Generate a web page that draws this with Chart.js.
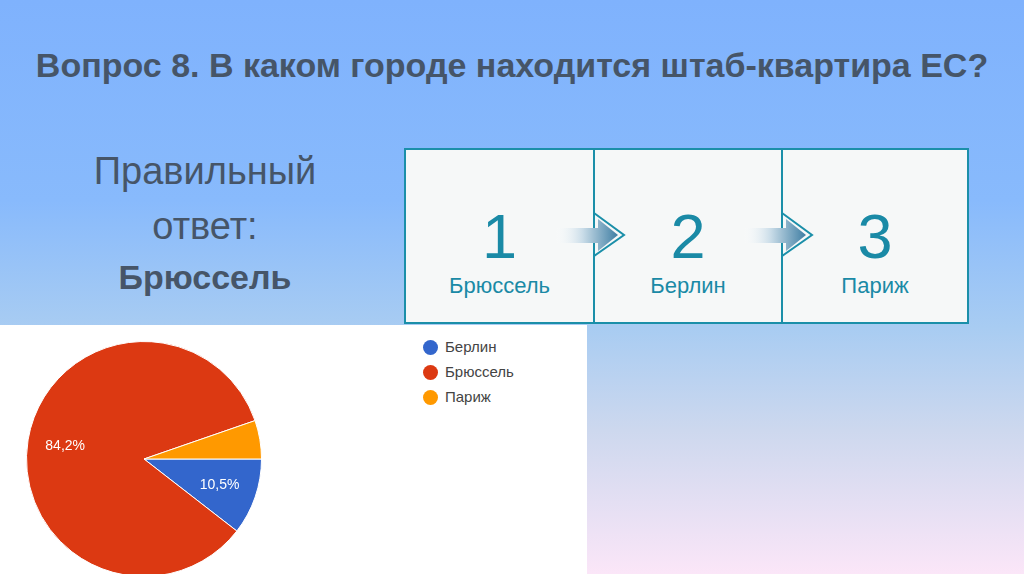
<!DOCTYPE html>
<html>
<head>
<meta charset="utf-8">
<script src="https://cdn.jsdelivr.net/npm/chart.js@4.4.0/dist/chart.umd.min.js"></script>
<style>
  html, body { margin: 0; padding: 0; }
  body {
    width: 1024px; height: 574px; overflow: hidden; position: relative;
    font-family: "Liberation Sans", Arial, sans-serif;
    background: linear-gradient(to bottom, #7fb2fd 0%, #88bafc 35%, #a8ccf2 57%, #cdd8ee 75%, #fbe6f8 100%);
  }
  .title {
    position: absolute; left: 0; width: 1024px; top: 48px; text-align: center; line-height: 1;
    font-size: 34px; font-weight: bold; color: #465568; white-space: nowrap;
  }
  .answer {
    position: absolute; left: 60px; width: 290px; text-align: center; color: #465568; line-height: 1;
  }
  .box {
    position: absolute; top: 148px; height: 176px; background: #f6f8f8;
    border: 2px solid #1b8fa9; box-sizing: border-box; text-align: center; color: #1a8aa6;
  }
  .box .num { position: absolute; left: 0; right: 0; top: 55px; font-size: 63px; line-height: 1; }
  .box .city { position: absolute; left: 0; right: 0; top: 125px; font-size: 22px; line-height: 1; }
  .arrow { position: absolute; top: 205px; }
  #panel {
    position: absolute; left: 0; top: 325px; width: 587px; height: 249px;
    background: #fff; overflow: hidden;
  }
  #pie { position: absolute; left: 26px; top: 16px; }
  #legend { position: absolute; left: 423px; top: 13px; font-size: 15px; color: #444; }
  #legend div { height: 25px; line-height: 18px; position: relative; padding-left: 22px; }
  #legend span.dot {
    position: absolute; left: 0; top: 2px; width: 15px; height: 15px; border-radius: 50%;
  }
</style>
</head>
<body>
<div class="title">Вопрос 8. В каком городе находится штаб-квартира ЕС?</div>
<div class="answer" style="top:152px;font-size:38px;">Правильный</div>
<div class="answer" style="top:207px;font-size:38px;">ответ:</div>
<div class="answer" style="top:260px;font-size:34px;font-weight:bold;">Брюссель</div>

<div id="boxes"></div>

<div id="panel">
  <canvas id="pie" width="236" height="236"></canvas>
  <div id="legend"></div>
</div>

<script>
// answer order in the boxes
var rankNumbers = ["1", "2", "3"];
var rankCities = ["Брюссель", "Берлин", "Париж"];

// survey result
var labels = ["Берлин", "Брюссель", "Париж"];
var shares = [10.5, 84.2, 5.3];
var colors = ["#3366cc", "#dc3912", "#ff9900"];

// boxes with arrows
var boxLefts = [404, 593, 781];
var boxWidths = [191, 190, 188];
var boxesHtml = "";
for (var i = 0; i < rankNumbers.length; i++) {
    boxesHtml += '<div class="box" style="left:' + boxLefts[i] + 'px;width:' + boxWidths[i] + 'px;">' +
        '<div class="num">' + rankNumbers[i] + '</div><div class="city">' + rankCities[i] + '</div></div>';
}
for (var j = 1; j < boxLefts.length; j++) {
    var x = boxLefts[j] - 39;
    boxesHtml += '<svg class="arrow" style="left:' + x + 'px" width="74" height="56" viewBox="0 0 74 56">' +
        '<defs><linearGradient id="ag' + j + '" gradientUnits="userSpaceOnUse" x1="0" x2="64" y1="0" y2="0">' +
        '<stop offset="0" stop-color="#ffffff" stop-opacity="0"/>' +
        '<stop offset="0.45" stop-color="#c9dce8"/>' +
        '<stop offset="1" stop-color="#3f7ea3"/></linearGradient></defs>' +
        '<path d="M40 8 L70 30 L40 51 Z" fill="#f6f8f8" stroke="#1b8fa9" stroke-width="2" stroke-linejoin="miter"/>' +
        '<path d="M0 23 L44 23 L44 14 L64 30 L44 46 L44 38 L0 38 Z" fill="url(#ag' + j + ')"/>' +
        '</svg>';
}
document.getElementById("boxes").innerHTML = boxesHtml;

// legend
var legendHtml = "";
for (var k = 0; k < labels.length; k++) {
    legendHtml += '<div><span class="dot" style="background:' + colors[k] + '"></span>' + labels[k] + '</div>';
}
document.getElementById("legend").innerHTML = legendHtml;

// percent labels inside the slices
var sliceLabels = {
    id: "sliceLabels",
    afterDatasetsDraw: function(chart) {
        var ctx = chart.ctx;
        var meta = chart.getDatasetMeta(0);
        ctx.save();
        ctx.font = "14px 'Liberation Sans', Arial, sans-serif";
        ctx.fillStyle = "#ffffff";
        ctx.textAlign = "center";
        ctx.textBaseline = "middle";
        meta.data.forEach(function(arc, idx) {
            var v = chart.data.datasets[0].data[idx];
            if (v < 8) return;
            var mid = (arc.startAngle + arc.endAngle) / 2;
            var r = arc.outerRadius * 0.68;
            ctx.fillText(v.toFixed(1).replace(".", ",") + "%", arc.x + Math.cos(mid) * r, arc.y + Math.sin(mid) * r);
        });
        ctx.restore();
    }
};

var pieChart = new Chart(document.getElementById("pie").getContext("2d"), {
    type: "pie",
    data: {
        labels: labels,
        datasets: [{
            data: shares,
            backgroundColor: colors,
            borderColor: "#ffffff",
            borderWidth: 1
        }]
    },
    options: {
        responsive: false,
        animation: false,
        rotation: 90,
        plugins: {
            legend: { display: false },
            tooltip: { enabled: false }
        }
    },
    plugins: [sliceLabels]
});
</script>
</body>
</html>
